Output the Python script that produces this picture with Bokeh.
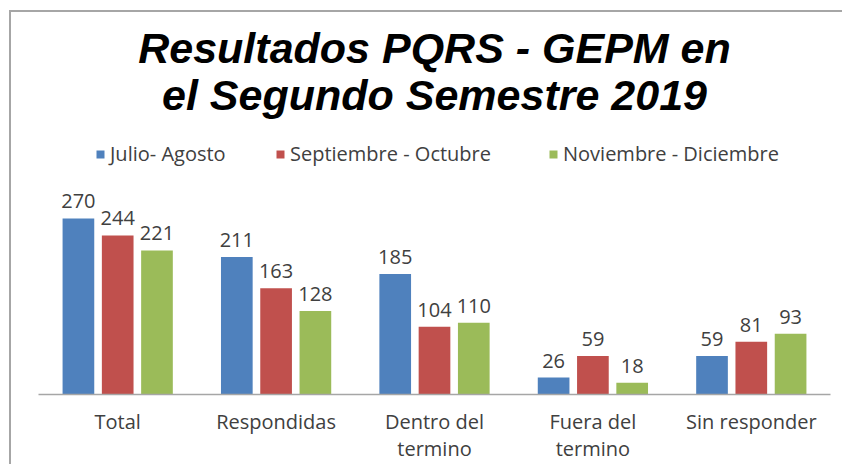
from bokeh.plotting import figure
from bokeh.models import Range1d, FixedTicker, Label, Legend, LegendItem, ColumnDataSource, LabelSet
from bokeh.core.properties import value
from bokeh.embed import file_html
from bokeh.resources import INLINE

categories = ["Total", "Respondidas", "Dentro del\ntermino", "Fuera del\ntermino", "Sin responder"]
series_names = ["Julio- Agosto", "Septiembre - Octubre", "Noviembre - Diciembre"]
julio_agosto = [270, 211, 185, 26, 59]
sept_oct = [244, 163, 104, 59, 81]
nov_dic = [221, 128, 110, 18, 93]
colors = ["#4F81BD", "#C0504D", "#9BBB59"]

FONT = "Open Sans"
p = figure(frame_width=792, frame_height=382, output_backend="svg", toolbar_location=None,
           x_range=Range1d(0, len(categories)), y_range=Range1d(0, 585.9),
           min_border_left=27, min_border_right=12, min_border_top=0, min_border_bottom=70)
p.styles = {"margin-left": "9px", "margin-top": "10px",
            "border-left": "2px solid #a6a6a6", "border-top": "2px solid #a6a6a6"}
p.outline_line_color = None
p.xgrid.visible = False
p.ygrid.visible = False
p.yaxis.visible = False
p.background_fill_color = "white"
p.border_fill_color = "white"

centers = [i + 0.5 for i in range(len(categories))]
p.xaxis.ticker = FixedTicker(ticks=centers)
p.xaxis.major_label_overrides = {c: lab for c, lab in zip(centers, categories)}
p.xaxis.major_tick_line_color = None
p.xaxis.minor_tick_line_color = None
p.xaxis.axis_line_color = "#a6a6a6"
p.xaxis.axis_line_width = 1.5
p.xaxis.major_label_text_font = FONT
p.xaxis.major_label_text_font_size = "20px"
p.xaxis.major_label_text_color = "#404040"
p.xaxis.major_label_text_line_height = 1.0
p.xaxis.major_label_standoff = 7

offsets = [-0.248, 0.0, 0.248]
bar_w = 0.2
legend_x = [57, 237, 510]
for vals, off, col, name, lx in zip([julio_agosto, sept_oct, nov_dic], offsets, colors, series_names, legend_x):
    src = ColumnDataSource(dict(x=[c + off for c in centers], top=vals, lab=[str(v) for v in vals]))
    r = p.vbar(x="x", top="top", width=bar_w, bottom=0, source=src, fill_color=col, line_color=None)
    p.add_layout(LabelSet(x="x", y="top", text="lab", source=src, text_align="center",
                          text_baseline="alphabetic", y_offset=10, text_font=value(FONT),
                          text_font_size=value("20px"), text_color="#404040"))
    lg = Legend(items=[LegendItem(label=name, renderers=[r])], orientation="horizontal",
                location=(lx, 227), glyph_width=10, glyph_height=10, label_text_font=FONT,
                label_text_font_size="20px", label_text_color="#404040",
                label_standoff=5, border_line_color=None, background_fill_alpha=0,
                padding=0, margin=0)
    p.add_layout(lg)

p.add_layout(Label(x=2.5, y=530.7, text="Resultados PQRS - GEPM en", text_align="center",
                   text_baseline="alphabetic", text_font="Liberation Sans", text_font_style="bold italic",
                   text_font_size="43px", text_color="black"))
p.add_layout(Label(x=2.5, y=458.6, text="el Segundo Semestre 2019", text_align="center",
                   text_baseline="alphabetic", text_font="Liberation Sans", text_font_style="bold italic",
                   text_font_size="43px", text_color="black"))

open("out.html", "w").write(file_html(p, INLINE))
